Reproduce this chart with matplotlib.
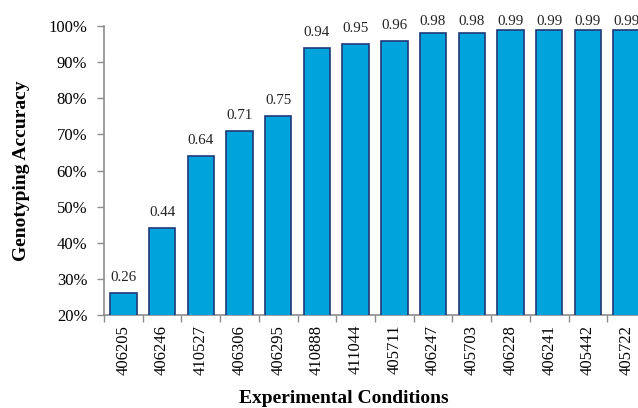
import matplotlib
matplotlib.use("Agg")
import matplotlib.pyplot as plt
from matplotlib.ticker import FixedLocator, PercentFormatter

conditions = ["406205", "406246", "410527", "406306", "406295", "410888", "411044",
              "405711", "406247", "405703", "406228", "406241", "405442", "405722"]
accuracy = [0.26, 0.44, 0.64, 0.71, 0.75, 0.94, 0.95, 0.96, 0.98, 0.98, 0.99, 0.99, 0.99, 0.99]
y_ticks = [0.2, 0.3, 0.4, 0.5, 0.6, 0.7, 0.8, 0.9, 1.0]

plt.rcParams["font.family"] = ["Liberation Serif", "DejaVu Serif"]

fig = plt.figure(figsize=(6.38, 4.08), dpi=100)
ax = fig.add_axes([0.163, 0.228, 0.8495, 0.708])

x = list(range(len(conditions)))
ax.bar(x, accuracy, width=0.68, color="#00A3DC",
       edgecolor="#1F3A78", linewidth=1.2, zorder=3)

# value labels sit just above each bar, kept inside the top of the chart area
for xi, v in zip(x, accuracy):
    ax.text(xi, min(v + 0.033, 1.003), f"{v:.2f}", ha="center", va="baseline",
            fontsize=10.8, color="#222222", clip_on=False)

ax.set_xlim(-0.5, len(conditions) - 0.5)
ax.set_ylim(0.2, 1.0)
ax.set_yticks(y_ticks)
ax.yaxis.set_major_formatter(PercentFormatter(xmax=1.0, decimals=0))
ax.set_xticks(x)
ax.set_xticklabels(conditions, rotation=90, fontsize=12)
ax.xaxis.set_minor_locator(FixedLocator([i - 0.5 for i in range(len(conditions) + 1)]))

ax.tick_params(axis="x", which="major", length=0, pad=7)
ax.tick_params(axis="x", which="minor", length=5, width=1, color="#8C8C8C")
ax.tick_params(axis="y", length=5, width=1, color="#8C8C8C", labelsize=12, pad=7)

for side in ("top", "right"):
    ax.spines[side].set_visible(False)
for side in ("left", "bottom"):
    ax.spines[side].set_color("#8C8C8C")
    ax.spines[side].set_linewidth(1.2)

ax.set_ylabel("Genotyping Accuracy", fontsize=14, fontweight="bold", labelpad=13)
ax.set_xlabel("Experimental Conditions", fontsize=14, fontweight="bold")
ax.xaxis.set_label_coords(0.443, -0.258)

fig.savefig("out.png", dpi=100)
